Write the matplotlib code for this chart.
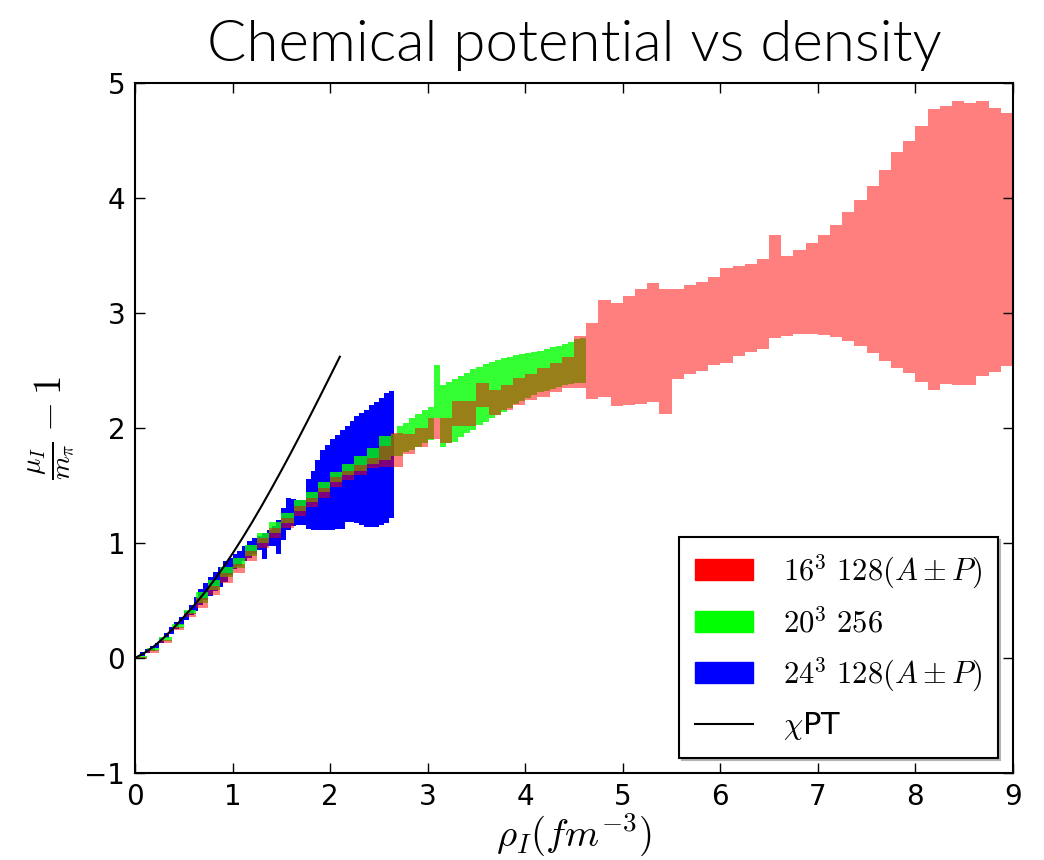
import matplotlib
matplotlib.use("Agg")
import matplotlib.pyplot as plt
from matplotlib.patches import Patch
from matplotlib.lines import Line2D

plt.rcParams['mathtext.fontset'] = 'cm'
plt.rcParams['font.family'] = ['DejaVu Sans']

# bin edges (each series is a step band: lower / upper edge per bin)
red_x = [0.0, 0.125, 0.25, 0.375, 0.5, 0.625, 0.75, 0.875, 1.0, 1.125, 1.25, 1.375,
         1.5, 1.625, 1.75, 1.875, 2.0, 2.125, 2.25, 2.375, 2.5, 2.625, 2.75, 2.875,
         3.0, 3.125, 3.25, 3.375, 3.5, 3.625, 3.75, 3.875, 4.0, 4.125, 4.25, 4.375,
         4.5, 4.625, 4.75, 4.875, 5.0, 5.125, 5.25, 5.375, 5.5, 5.625, 5.75, 5.875,
         6.0, 6.125, 6.25, 6.375, 6.5, 6.625, 6.75, 6.875, 7.0, 7.125, 7.25, 7.375,
         7.5, 7.625, 7.75, 7.875, 8.0, 8.125, 8.25, 8.375, 8.5, 8.625, 8.75, 8.875, 9.0]
red_lo = [-0.01, 0.04, 0.13, 0.24, 0.36, 0.435, 0.545, 0.655, 0.735, 0.845, 0.955, 1.045,
          1.13, 1.235, 1.31, 1.395, 1.485, 1.545, 1.595, 1.65, 1.66, 1.664, 1.774, 1.838,
          1.90, 1.867, 2.017, 2.017, 2.18, 2.113, 2.157, 2.20, 2.243, 2.272, 2.316, 2.345,
          2.35, 2.249, 2.267, 2.194, 2.200, 2.209, 2.223, 2.122, 2.423, 2.467, 2.498, 2.545,
          2.568, 2.623, 2.664, 2.687, 2.780, 2.800, 2.814, 2.814, 2.806, 2.788, 2.759, 2.710,
          2.655, 2.586, 2.519, 2.478, 2.397, 2.333, 2.385, 2.374, 2.377, 2.449, 2.487, 2.536]
red_hi = [0.01, 0.07, 0.16, 0.27, 0.39, 0.52, 0.63, 0.74, 0.82, 0.93, 1.04, 1.13,
          1.215, 1.32, 1.395, 1.48, 1.57, 1.63, 1.68, 1.74, 1.84, 1.954, 1.948, 1.997,
          2.09, 2.084, 2.237, 2.237, 2.388, 2.33, 2.374, 2.432, 2.469, 2.519, 2.568, 2.62,
          2.80, 2.910, 3.113, 3.090, 3.148, 3.212, 3.261, 3.206, 3.209, 3.241, 3.272, 3.313,
          3.394, 3.409, 3.429, 3.470, 3.675, 3.499, 3.548, 3.609, 3.678, 3.768, 3.875, 3.983,
          4.107, 4.241, 4.397, 4.496, 4.626, 4.774, 4.800, 4.843, 4.823, 4.843, 4.780, 4.739]

green_x = [0.0, 0.125, 0.25, 0.375, 0.5, 0.625, 0.75, 0.875, 1.0, 1.125, 1.25, 1.375,
           1.5, 1.625, 1.75, 1.875, 2.0, 2.125, 2.25, 2.375, 2.5, 2.625, 2.6875, 2.75,
           2.8125, 2.875, 2.9375, 3.0, 3.0625, 3.125, 3.1875, 3.25, 3.3125, 3.375, 3.4375,
           3.5, 3.5625, 3.625, 3.6875, 3.75, 3.8125, 3.875, 3.9375, 4.0, 4.0625, 4.125,
           4.1875, 4.25, 4.3125, 4.375, 4.4375, 4.5, 4.5625, 4.625]
green_lo = [0.0, 0.06, 0.15, 0.26, 0.38, 0.48, 0.59, 0.70, 0.78, 0.89, 1.00, 1.09,
            1.175, 1.28, 1.355, 1.44, 1.53, 1.59, 1.63, 1.69, 1.72, 1.76, 1.756, 1.794,
            1.809, 1.838, 1.867, 1.896, 2.084, 1.838, 1.867, 1.881, 1.925, 1.953, 1.983,
            2.026, 2.055, 2.084, 2.113, 2.142, 2.171, 2.209, 2.238, 2.258, 2.287, 2.31,
            2.325, 2.34, 2.355, 2.37, 2.38, 2.39, 2.39]
green_hi = [0.02, 0.09, 0.185, 0.295, 0.415, 0.57, 0.68, 0.79, 0.87, 0.98, 1.09, 1.18,
            1.265, 1.37, 1.445, 1.53, 1.62, 1.69, 1.76, 1.83, 1.93, 1.95, 2.017, 2.046,
            2.084, 2.122, 2.157, 2.185, 2.548, 2.374, 2.403, 2.429, 2.452, 2.481, 2.510,
            2.533, 2.553, 2.571, 2.591, 2.606, 2.620, 2.632, 2.643, 2.649, 2.658, 2.672,
            2.684, 2.701, 2.713, 2.730, 2.748, 2.771, 2.78]

blue_x = [0.0, 0.05, 0.1, 0.15, 0.2, 0.25, 0.3, 0.35, 0.4, 0.45, 0.5, 0.55, 0.6, 0.65,
          0.7, 0.75, 0.8, 0.85, 0.9, 0.95, 1.0, 1.05, 1.1, 1.15, 1.2, 1.25, 1.3, 1.35,
          1.4, 1.45, 1.5, 1.55, 1.6, 1.65, 1.7, 1.75, 1.8, 1.85, 1.9, 1.95, 2.0, 2.05,
          2.1, 2.15, 2.2, 2.25, 2.3, 2.35, 2.4, 2.45, 2.5, 2.55, 2.6, 2.65]
blue_lo = [0.00, 0.02, 0.04, 0.06, 0.09, 0.13, 0.17, 0.21, 0.25, 0.29, 0.33, 0.37, 0.41,
           0.46, 0.50, 0.54, 0.58, 0.62, 0.66, 0.72, 0.77, 0.80, 0.84, 0.87, 0.90, 0.94,
           0.86, 0.97, 0.97, 0.90, 1.03, 1.11, 1.15, 1.16, 1.16, 1.12, 1.11, 1.11, 1.11,
           1.11, 1.11, 1.12, 1.12, 1.18, 1.18, 1.17, 1.16, 1.14, 1.14, 1.14, 1.16, 1.17, 1.22]
blue_hi = [0.02, 0.05, 0.08, 0.10, 0.13, 0.17, 0.22, 0.27, 0.31, 0.36, 0.41, 0.46, 0.53,
           0.60, 0.65, 0.70, 0.75, 0.79, 0.84, 0.87, 0.90, 0.93, 0.97, 1.02, 1.04, 1.06,
           1.09, 1.11, 1.15, 1.20, 1.30, 1.39, 1.38, 1.37, 1.37, 1.56, 1.63, 1.72, 1.81,
           1.85, 1.90, 1.94, 1.98, 2.02, 2.06, 2.10, 2.13, 2.16, 2.20, 2.23, 2.26, 2.30, 2.32]

# chiral perturbation theory curve
chpt_x = [0.0, 0.1, 0.2, 0.3, 0.4, 0.5, 0.6, 0.7, 0.8, 0.9, 1.0, 1.1, 1.2, 1.3, 1.4,
          1.5, 1.6, 1.7, 1.8, 1.9, 2.0, 2.1]
chpt_y = [0.0, 0.045, 0.105, 0.18, 0.265, 0.357, 0.452, 0.554, 0.664, 0.782, 0.908,
          1.041, 1.180, 1.325, 1.475, 1.629, 1.787, 1.949, 2.114, 2.281, 2.45, 2.62]

labels = [r'$16^3\ 128(A\pm P)$', r'$20^3\ 256$', r'$24^3\ 128(A\pm P)$', r'$\chi$PT']


def band(ax, edges, lo, hi, color, alpha):
    ax.fill_between(edges, lo + lo[-1:], hi + hi[-1:], step='post',
                    facecolor=color, alpha=alpha, linewidth=0)


fig = plt.figure(figsize=(10.44, 8.6), dpi=100)
ax = fig.add_axes([0.1293, 0.1012, 0.8410, 0.8023])

band(ax, blue_x, blue_lo, blue_hi, '#0000ff', 1.0)
band(ax, green_x, green_lo, green_hi, '#00ff00', 0.8)
band(ax, red_x, red_lo, red_hi, '#ff0000', 0.5)
ax.plot(chpt_x, chpt_y, color='k', lw=1.5)

ax.set_xlim(0, 9)
ax.set_ylim(-1, 5)
ax.set_xticks(range(0, 10))
ax.set_yticks(range(-1, 6))
ax.tick_params(direction='in', top=True, right=True, length=7, width=1,
               labelsize=20, pad=7)
for s in ax.spines.values():
    s.set_linewidth(1.5)

ax.set_title('Chemical potential vs density', fontsize=42, family='Lato',
             fontweight=300, pad=16)
ax.set_xlabel(r'$\rho_I(fm^{-3})$', fontsize=28, labelpad=0)
ax.set_ylabel(r'$\frac{\mu_I}{m_\pi}-1$', fontsize=28, labelpad=6)

handles = [Patch(facecolor='#ff0000', edgecolor='#ff0000'),
           Patch(facecolor='#00ff00', edgecolor='#00ff00'),
           Patch(facecolor='#0000ff', edgecolor='#0000ff'),
           Line2D([], [], color='k', lw=1.5)]
leg = ax.legend(handles, labels, loc='lower right', fontsize=22, fancybox=False,
                shadow={'color': '0.7', 'alpha': 1.0}, framealpha=1,
                edgecolor='k', labelspacing=0.55, borderaxespad=0.5,
                handlelength=1.9, handletextpad=1.0, borderpad=0.5)
leg.get_frame().set_linewidth(1.5)

fig.savefig('out.png', dpi=100)
